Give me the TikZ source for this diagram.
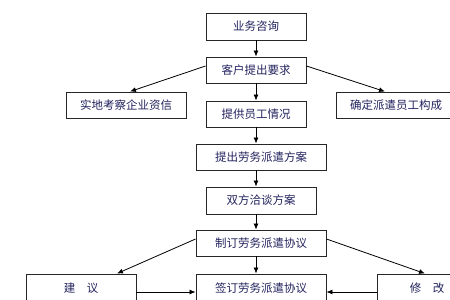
\documentclass[tikz,border=0pt]{standalone}
\usepackage{fontspec}
\newfontfamily\cjk{Noto Sans CJK SC}
\usetikzlibrary{arrows.meta,calc}
\definecolor{txt}{RGB}{35,35,95}
\begin{document}
\begin{tikzpicture}[x=1pt,y=1pt,
  box/.style={draw=black!85,line width=0.9pt,fill=white,inner sep=0pt,minimum height=26pt,font=\cjk\fontsize{11.5}{13}\selectfont,text=txt},
  arr/.style={draw=black,line width=0.8pt,-{Latex[length=6pt,width=5pt]}}]
\useasboundingbox (0,0) rectangle (450,300);
\clip (0,0) rectangle (450,300);
\node[box,minimum width=100pt,minimum height=27pt] (yw) at (256,273.5) {业务咨询};
\node[box,minimum width=100pt] (kh) at (256,230) {客户提出要求};
\node[box,minimum width=120pt] (sd) at (126,195) {实地考察企业资信};
\node[box,minimum width=100pt] (tg) at (256,186) {提供员工情况};
\node[box,minimum width=120pt] (qd) at (396,195) {确定派遣员工构成};
\node[box,minimum width=130pt] (tc) at (261,143) {提出劳务派遣方案};
\node[box,minimum width=110pt,minimum height=27pt] (sf) at (261,99.5) {双方洽谈方案};
\node[box,minimum width=130pt] (zd) at (261,57) {制订劳务派遣协议};
\node[box,minimum width=130pt,minimum height=28pt] (qy) at (261,12) {签订劳务派遣协议};
\node[box,minimum width=110pt,minimum height=28pt] (jy) at (81,12) {建\quad 议};
\node[box,minimum width=100pt,minimum height=28pt] (xg) at (427,12) {修\quad 改};
\draw[arr] (yw.south) -- (kh.north);
\draw[arr] (kh.south) -- (tg.north);
\draw[arr] (tg.south) -- (tg.south |- tc.north);
\draw[arr] (tg.south |- tc.south) -- (tg.south |- sf.north);
\draw[arr] (tg.south |- sf.south) -- (tg.south |- zd.north);
\draw[arr] (tg.south |- zd.south) -- (tg.south |- qy.north);
\draw[arr] ($(kh.west)+(0,4)$) -- ($(sd.north)+(4,0)$);
\draw[arr] ($(kh.east)+(0,4)$) -- ($(qd.north)+(-11,0)$);
\draw[arr] ($(zd.west)+(0,4)$) -- ($(jy.north)+(36,0)$);
\draw[arr] ($(zd.east)+(0,4)$) -- ($(xg.north)+(-2,0)$);
\draw[arr] ($(jy.east)+(0,-4)$) -- ($(qy.west)+(0,-4)$);
\draw[arr] ($(xg.west)+(0,-4)$) -- ($(qy.east)+(0,-4)$);
\end{tikzpicture}
\end{document}
